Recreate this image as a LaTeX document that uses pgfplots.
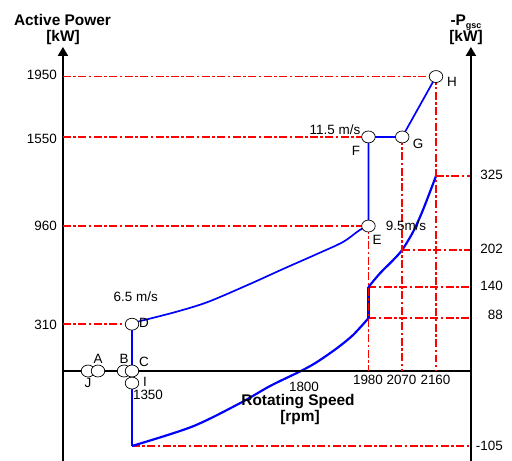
\documentclass[border=0pt]{standalone}
\usepackage{pgfplots}
\pgfplotsset{compat=1.18}
\usepackage{fontspec}
\setmainfont{Liberation Sans}
\usetikzlibrary{arrows.meta}
\definecolor{pblue}{RGB}{0,0,255}
\definecolor{pred}{RGB}{255,0,0}
\begin{document}
\begin{tikzpicture}
\useasboundingbox (0,0) rectangle (512bp,461bp);
\pgfplotsset{
 base/.style={at={(0,0)},anchor=south west,scale only axis,width=512bp,height=461bp,
   xmin=998.3,xmax=2362.5,hide axis,clip=false},
 guide/.style={pred,line width=1.6pt,dash pattern=on 8pt off 2.5pt on 2.5pt off 2.5pt,no marks},
 circ/.style={only marks,mark=*,mark size=6.8pt,mark options={fill=white,draw=black,line width=0.7pt,yscale=0.88}},
}
% ---------- right axis: -P_gsc [kW] ----------
\begin{axis}[base,ymin=-126.05,ymax=618.33,
  y coord trafo/.code={\pgfmathparse{(#1<0)?(1.19*(#1)):(#1)}},
  y coord inv trafo/.code={\pgfmathparse{(#1<0)?((#1)/1.19):(#1)}}]
\addplot[guide] coordinates {(2160,325) (2253,325)};
\addplot[guide] coordinates {(2070,202) (2253,202)};
\addplot[guide] coordinates {(1980,140) (2253,140)};
\addplot[guide] coordinates {(1980,88) (2253,88)};
\addplot[guide] coordinates {(1350,-105) (2253,-105)};
\addplot[pblue,line width=2.2pt,no marks] coordinates {(1350,-17) (1350,-105)};
\addplot[pblue,line width=2.2pt,no marks,smooth,tension=0.5] coordinates {
 (1350,-105) (1510,-78) (1638,-45) (1718,-21) (1800,0)
 (1843,15) (1896,38) (1939,60) (1980,88)};
\addplot[pblue,line width=2.2pt,no marks] coordinates {(1980,88) (1980,140)};
\addplot[pblue,line width=2.2pt,no marks,smooth,tension=0.5] coordinates {
 (1980,140) (2011,163) (2046,185) (2070,202) (2099,232) (2125,268) (2160,325)};
\end{axis}
% ---------- left axis: Active Power [kW] ----------
\begin{axis}[base,ymin=-596.0,ymax=2456.9]
\draw[line width=2pt,-{Triangle[width=10pt,length=9pt]}] (axis cs:1166,-596) -- (axis cs:1166,2146);
\draw[line width=2pt,-{Triangle[width=10pt,length=9pt]}] (axis cs:2253,-596) -- (axis cs:2253,2146);
\draw[line width=2pt] (axis cs:1166,0) -- (axis cs:2253,0);
\addplot[guide] coordinates {(1166,1950) (2160,1950)};
\addplot[guide] coordinates {(1166,1550) (1980,1550)};
\addplot[guide] coordinates {(1166,960) (1980,960)};
\addplot[guide] coordinates {(1166,310) (1350,310)};
\addplot[guide] coordinates {(2160,1950) (2160,0)};
\addplot[guide] coordinates {(2070,1550) (2070,0)};
\addplot[guide] coordinates {(1980,960) (1980,0)};
\addplot[pblue,line width=1.7pt,no marks] coordinates {(1350,0) (1350,310) (1370,330)};
\addplot[pblue,line width=1.7pt,no marks,smooth,tension=0.5] coordinates {
 (1370,330) (1465,390) (1552,457) (1664,576)
 (1752,675) (1843,775) (1912,854) (1957,934) (1980,960)};
\addplot[pblue,line width=1.7pt,no marks] coordinates {(1980,960) (1980,1550)
 (2070,1550) (2160,1950)};
\addplot[circ] coordinates {(1232.8,0) (1259.4,0) (1328.7,0) (1350,0) (1350,-80)
 (1350,310) (1980,960) (1980,1550) (2070,1550) (2160,1950)};
\end{axis}
% ---------- texts (pixel frame) ----------
\begin{scope}[x=1bp,y=-1bp,shift={(0,461bp)},every node/.style={inner sep=0pt,font=\fontsize{13.5}{16}\selectfont}]
\node[anchor=base,font=\fontsize{15.5}{18}\selectfont\bfseries] at (62.5,26) {Active Power};
\node[anchor=base,font=\fontsize{15.5}{18}\selectfont\bfseries] at (63,42) {[kW]};
\node[anchor=base,font=\fontsize{15.5}{18}\selectfont\bfseries] at (466,26) {-P\raisebox{-0.35ex}{\fontsize{9}{9}\selectfont\bfseries gsc}};
\node[anchor=base,font=\fontsize{15.5}{18}\selectfont\bfseries] at (466,42) {[kW]};
\node[anchor=east] at (57,75) {1950};
\node[anchor=east] at (57,139) {1550};
\node[anchor=east] at (57,226) {960};
\node[anchor=east] at (57,325) {310};
\node[anchor=east] at (503,175) {325};
\node[anchor=east] at (503,249) {202};
\node[anchor=east] at (503,286) {140};
\node[anchor=east] at (503,315) {88};
\node[anchor=east] at (503,446) {-105};
\node at (148,395) {1350};
\node at (304,387) {1800};
\node at (368,380) {1980};
\node at (401.5,380) {2070};
\node at (435.5,380) {2160};
\node[anchor=base,font=\fontsize{15.5}{18}\selectfont\bfseries] at (298,406) {Rotating Speed};
\node[anchor=base,font=\fontsize{15.5}{18}\selectfont\bfseries] at (300,422) {[rpm]};
\node at (98,359) {A};
\node at (88,383) {J};
\node at (124,359) {B};
\node at (144,362) {C};
\node at (145,382) {I};
\node at (144,323) {D};
\node at (377,240) {E};
\node at (356,151) {F};
\node at (418,144) {G};
\node at (452,82) {H};
\node[anchor=base] at (335,135) {11.5 m/s};
\node[anchor=base] at (406,231) {9.5m/s};
\node[anchor=base east] at (158,302) {6.5 m/s};
\end{scope}
\end{tikzpicture}
\end{document}
